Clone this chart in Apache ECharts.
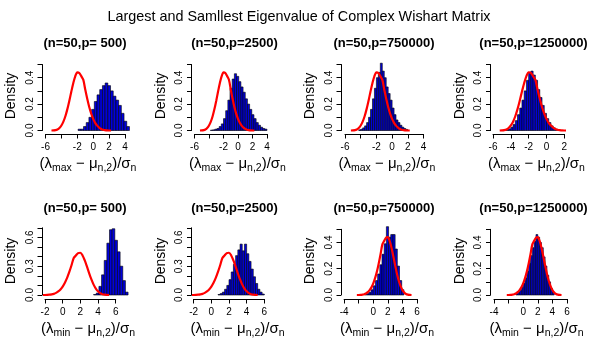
<!DOCTYPE html>
<html><head><meta charset="utf-8">
<script src="https://cdn.jsdelivr.net/npm/echarts@6/dist/echarts.min.js"></script>
<style>html,body{margin:0;padding:0;background:#fff}#c{width:598px;height:360px}</style>
</head><body><div id="c"></div>
<script>
const mainTitle = 'Largest and Samllest Eigenvalue of Complex Wishart Matrix';
const panelTitles = ['(n=50,p= 500)', '(n=50,p=2500)', '(n=50,p=750000)', '(n=50,p=1250000)',
                     '(n=50,p= 500)', '(n=50,p=2500)', '(n=50,p=750000)', '(n=50,p=1250000)'];
const yTitle = 'Density';
const xSubTop = 'max';
const xSubBottom = 'min';

// Red reference density curve (largest eigenvalue panels)
const curveTopX = [-5.25,-5.0,-4.75,-4.5,-4.25,-4.0,-3.75,-3.5,-3.25,-3.0,-2.75,-2.5,-2.25,-2.0,-1.75,-1.5,-1.25,-1.0,-0.75,-0.5,-0.25,0.0,0.25,0.5,0.75,1.0,1.25,1.5,1.75,2.0,2.25];
const curveTopY = [0.000,0.001,0.003,0.008,0.019,0.038,0.067,0.108,0.162,0.226,0.295,0.360,0.412,0.440,0.436,0.412,0.385,0.310,0.240,0.178,0.128,0.088,0.058,0.037,0.022,0.012,0.006,0.003,0.001,0.000,0.000];
// Red reference density curve (smallest eigenvalue panels)
const curveBotX = [-2.25,-2.0,-1.75,-1.5,-1.25,-1.0,-0.75,-0.5,-0.25,0.0,0.25,0.5,0.75,1.0,1.25,1.5,1.75,2.0,2.25,2.5,2.75,3.0,3.25,3.5,3.75,4.0,4.25,4.5,4.75,5.0,5.25];
const curveBotY = [0.000,0.000,0.001,0.003,0.006,0.012,0.022,0.037,0.058,0.088,0.128,0.178,0.240,0.310,0.385,0.412,0.436,0.440,0.412,0.360,0.295,0.226,0.162,0.108,0.067,0.038,0.019,0.008,0.003,0.001,0.000];

// Histograms: first break, bin width, densities
const histStart = [-1.9, -3.8, -4.25, -4.75, 3.5, 0.75, -1.2, -1.0];
const histWidth = [0.34, 0.3, 0.25, 0.25, 0.3, 0.25, 0.3, 0.25];
const hist1 = [0.01,0.01,0.03,0.06,0.10,0.16,0.22,0.27,0.31,0.34,0.36,0.34,0.30,0.26,0.23,0.19,0.13,0.07,0.03];
const hist2 = [0.003,0.005,0.01,0.015,0.03,0.05,0.09,0.15,0.23,0.32,0.39,0.43,0.41,0.37,0.33,0.29,0.24,0.20,0.16,0.12,0.09,0.06,0.04,0.025,0.015,0.01];
const hist3 = [0.005,0.01,0.02,0.035,0.06,0.10,0.16,0.24,0.32,0.40,0.44,0.51,0.45,0.40,0.33,0.28,0.23,0.17,0.12,0.08,0.06,0.04,0.025,0.015,0.008];
const hist4 = [0.003,0.006,0.012,0.025,0.045,0.075,0.12,0.17,0.23,0.30,0.38,0.44,0.45,0.42,0.38,0.31,0.25,0.19,0.13,0.09,0.06,0.035,0.02,0.01];
const hist5 = [0.005,0.02,0.09,0.21,0.36,0.54,0.68,0.69,0.57,0.45,0.30,0.15,0.03];
const hist6 = [0.005,0.015,0.03,0.06,0.10,0.16,0.24,0.32,0.41,0.47,0.53,0.46,0.53,0.43,0.35,0.27,0.19,0.12,0.06,0.03,0.01];
const hist7 = [0.005,0.01,0.02,0.04,0.07,0.11,0.16,0.23,0.31,0.39,0.52,0.44,0.46,0.46,0.35,0.22,0.11,0.04];
const hist8 = [0.01,0.02,0.035,0.06,0.09,0.13,0.18,0.24,0.30,0.36,0.41,0.46,0.44,0.40,0.36,0.29,0.22,0.15,0.10,0.05,0.02];
const hists = [hist1, hist2, hist3, hist4, hist5, hist6, hist7, hist8];

// Axes: tick ranges and shown tick labels
const xMin = [-6, -6, -6, -6, -2, -2, -4, -4];
const xMax = [4, 4, 4, 2, 6, 6, 6, 6];
const xLabels = [[-6,-2,0,2,4], [-6,-2,0,2,4], [-6,-2,0,2,4], [-6,-4,-2,0,2],
                 [-2,0,2,4,6], [-2,0,2,4,6], [-4,0,2,4,6], [-4,0,2,4,6]];
const yMax = [0.5, 0.5, 0.5, 0.5, 0.7, 0.7, 0.5, 0.5];
const yLabels = [['0.0','0.2','0.4'], ['0.0','0.2','0.4'], ['0.0','0.2','0.4'], ['0.0','0.2','0.4'],
                 ['0.0','0.3','0.6'], ['0.0','0.3','0.6'], ['0.0','0.2','0.4'], ['0.0','0.2','0.4']];

// ---- layout (pixels) ----
const gridLeft  = [45.5, 194.5, 345, 493, 45, 193.7, 344.1, 494];
const gridRight = [125, 267, 423.5, 564.3, 115.7, 264.3, 417, 567];
const yAxisX = [42, 191.5, 341, 490.5, 42, 191.5, 341, 490.5];
const rowBase = [130.5, 295];
const FONT = "'Liberation Sans', Arial, Helvetica, sans-serif";

const grids = [], xAxes = [], yAxes = [], series = [], graphics = [];
for (let i = 0; i < 8; i++) {
  const r = i < 4 ? 0 : 1, c = i % 4;
  const base = rowBase[r];
  const top = r === 0 ? 64.5 : (yMax[i] > 0.6 ? 227.8 : 229.3);
  grids.push({left: gridLeft[i], top: top, width: gridRight[i] - gridLeft[i], height: base - top, containLabel: false});
  const xl = xLabels[i], yl = yLabels[i];
  xAxes.push({
    type: 'value', gridIndex: i, min: xMin[i], max: xMax[i], interval: 2,
    position: 'bottom', offset: r === 0 ? 3.5 : 4,
    axisLine: {show: true, onZero: false, lineStyle: {color: '#000', width: 1}},
    axisTick: {show: true, inside: false, length: 4.5, lineStyle: {color: '#000', width: 1}},
    axisLabel: {show: true, color: '#000', fontSize: 10, fontFamily: FONT, margin: 8,
      formatter: v => xl.indexOf(Math.round(v)) >= 0 ? String(Math.round(v)) : ''},
    splitLine: {show: false}
  });
  yAxes.push({
    type: 'value', gridIndex: i, min: 0, max: yMax[i], interval: 0.1,
    position: 'left', offset: gridLeft[i] - yAxisX[i],
    axisLine: {show: true, onZero: false, lineStyle: {color: '#000', width: 1}},
    axisTick: {show: true, inside: false, length: 4.5, lineStyle: {color: '#000', width: 1}},
    axisLabel: {show: true, color: '#000', fontSize: 10, fontFamily: FONT, margin: 7, rotate: 90,
      formatter: v => { const s = (Math.round(v * 10) / 10).toFixed(1); return yl.indexOf(s) >= 0 ? s : ''; }},
    splitLine: {show: false}
  });
  const h = hists[i];
  const data = h.map((d, k) => [histStart[i] + k * histWidth[i], histStart[i] + (k + 1) * histWidth[i], d]);
  series.push({
    type: 'custom', xAxisIndex: i, yAxisIndex: i, clip: false, z: 2,
    encode: {x: [0, 1], y: 2},
    data: data,
    renderItem: (params, api) => {
      const p0 = api.coord([api.value(0), api.value(2)]);
      const p1 = api.coord([api.value(1), 0]);
      return {type: 'rect', shape: {x: p0[0], y: p0[1], width: p1[0] - p0[0], height: p1[1] - p0[1]},
              style: {fill: '#0000dd', stroke: '#000000', lineWidth: 0.6}};
    }
  });
  const cx = r === 0 ? curveTopX : curveBotX, cy = r === 0 ? curveTopY : curveBotY;
  series.push({
    type: 'line', xAxisIndex: i, yAxisIndex: i, clip: false, z: 3,
    data: cx.map((x, k) => [x, cy[k]]), showSymbol: false, smooth: 0.3,
    lineStyle: {color: '#ff0000', width: 2.2}, silent: true, animation: false
  });

  const pcx = 85 + 149.5 * c;
  graphics.push({type: 'text', x: pcx, y: 43.5 + 165 * r,
    style: {text: panelTitles[i], font: 'bold 13px ' + FONT, fill: '#000', align: 'center', verticalAlign: 'middle'}});
  graphics.push({type: 'text', x: 11.5 + 149.5 * c, y: 96 + 165 * r, rotation: Math.PI / 2,
    style: {text: yTitle, font: '14px ' + FONT, fill: '#000', align: 'center', verticalAlign: 'middle'}});
  const sub = r === 0 ? xSubTop : xSubBottom;
  graphics.push({type: 'text', x: pcx + 3, y: 164 + 165 * r,
    style: {text: '(λ{s|' + sub + '}{m| − }μ{s|n,2}{m|)/σ}{s|n}', fill: '#000', align: 'center', verticalAlign: 'middle',
      font: '15px ' + FONT,
      rich: {m: {fontSize: 15, fontFamily: FONT, lineHeight: 19, fill: '#000'},
             s: {fontSize: 10.5, fontFamily: FONT, lineHeight: 10, verticalAlign: 'bottom', fill: '#000'}}}});
}
graphics.push({type: 'text', x: 299, y: 17,
  style: {text: mainTitle, font: '14.4px ' + FONT, fill: '#000', align: 'center', verticalAlign: 'middle'}});

const chart = echarts.init(document.getElementById('c'), null, {renderer: 'canvas'});
chart.setOption({
  animation: false,
  backgroundColor: '#fff',
  grid: grids, xAxis: xAxes, yAxis: yAxes, series: series,
  graphic: {elements: graphics}
});
</script></body></html>
